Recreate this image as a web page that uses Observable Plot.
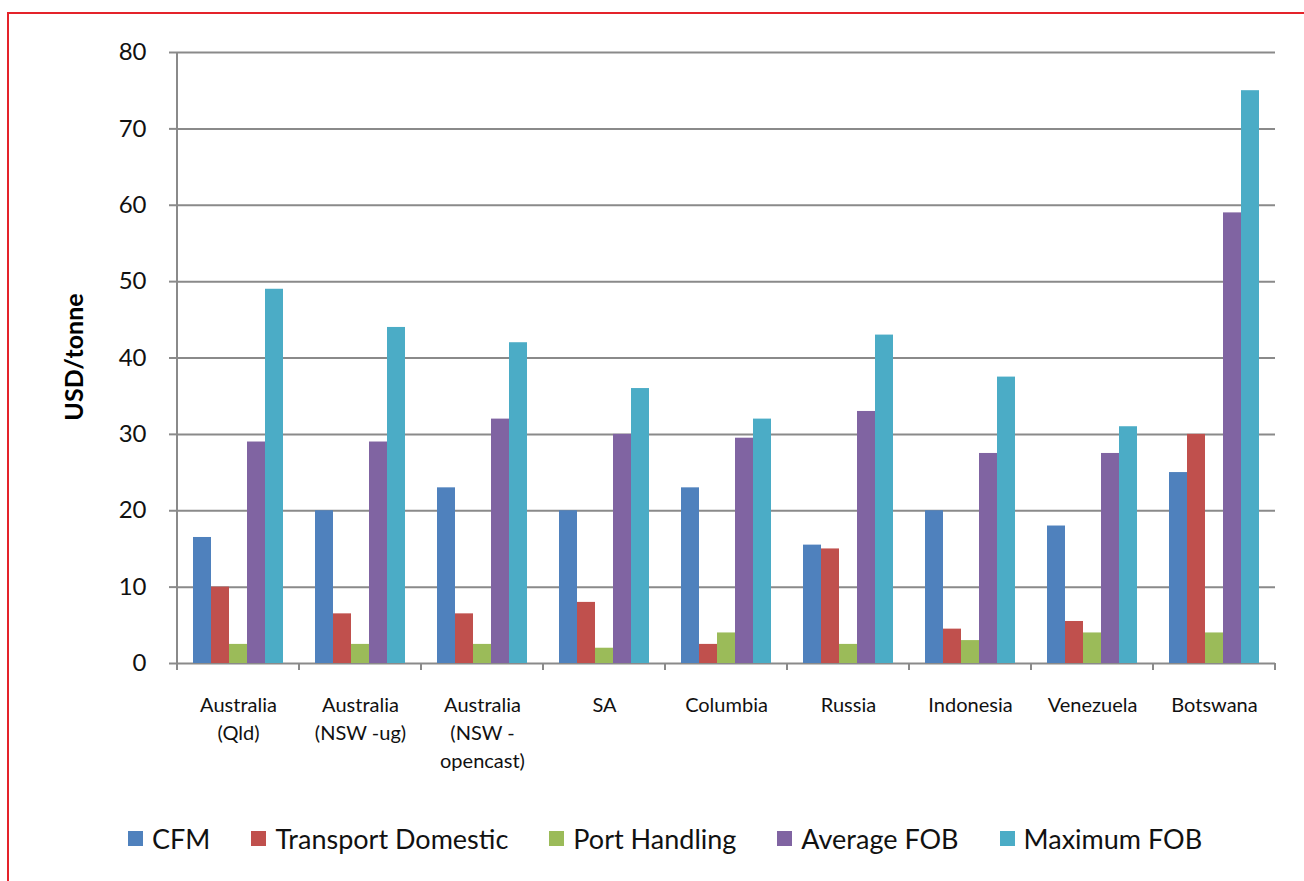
<!DOCTYPE html>
<html>
<head>
<meta charset="utf-8">
<script src="https://cdn.jsdelivr.net/npm/d3@7"></script>
<script src="https://cdn.jsdelivr.net/npm/@observablehq/plot@0.6"></script>
<style>
  html, body { margin: 0; padding: 0; background: #fff; }
  #wrap { position: relative; width: 1304px; height: 881px; overflow: hidden; font-family: Lato, "Open Sans", sans-serif; }
  #frame { position: absolute; left: 7px; top: 12px; width: 1400px; height: 1000px; border-top: 2px solid #e4232a; border-left: 2px solid #e4232a; }
  #chart { position: absolute; left: 0; top: 0; }
  #ytitle { position: absolute; left: 73px; top: 357px; transform: translate(-50%, -50%) rotate(-90deg); font-weight: bold; font-size: 25px; white-space: nowrap; color: #000; }
  #legend { position: absolute; left: 128px; top: 822px; display: flex; align-items: center; gap: 41px; font-size: 27px; color: #111; }
  #legend .item { display: flex; align-items: center; gap: 9px; }
  #legend .sw { width: 15px; height: 15px; display: inline-block; }
</style>
</head>
<body>
<div id="wrap">
  <div id="frame"></div>
  <div id="chart"></div>
  <div id="ytitle">USD/tonne</div>
  <div id="legend"></div>
</div>
<script>
const countries = ["Australia\n(Qld)", "Australia\n(NSW -ug)", "Australia\n(NSW -\nopencast)", "SA", "Columbia", "Russia", "Indonesia", "Venezuela", "Botswana"];
const series = ["CFM", "Transport Domestic", "Port Handling", "Average FOB", "Maximum FOB"];
const colors = ["#4F81BD", "#C0504D", "#9BBB59", "#8064A2", "#4BACC6"];
const cfm       = [16.5, 20, 23, 20, 23, 15.5, 20, 18, 25];
const transport = [10, 6.5, 6.5, 8, 2.5, 15, 4.5, 5.5, 30];
const port      = [2.5, 2.5, 2.5, 2, 4, 2.5, 3, 4, 4];
const avgFob    = [29, 29, 32, 30, 29.5, 33, 27.5, 27.5, 59];
const maxFob    = [49, 44, 42, 36, 32, 43, 37.5, 31, 75];
const yTicks = [0, 10, 20, 30, 40, 50, 60, 70, 80];

const seriesValues = [cfm, transport, port, avgFob, maxFob];
const rows = [];
countries.forEach((c, i) => series.forEach((s, k) => rows.push({country: c, series: s, value: seriesValues[k][i]})));

const gridColor = "#8a8a8a";

const chart = Plot.plot({
  width: 1304,
  height: 790,
  marginTop: 52,
  marginBottom: 127,
  marginLeft: 176,
  marginRight: 28,
  style: {fontFamily: "Lato, 'Open Sans', sans-serif", background: "transparent", color: "#111"},
  fx: {domain: countries, padding: 0, label: null},
  x: {domain: series, paddingInner: 0, paddingOuter: 0.77, axis: null},
  y: {domain: [0, 80], label: null},
  color: {domain: series, range: colors},
  marks: [
    Plot.ruleY(yTicks, {stroke: gridColor, strokeWidth: 2}),
    Plot.barY(rows, {fx: "country", x: "series", y: "value", fill: "series"}),
    Plot.axisY({ticks: yTicks, tickSize: 8, tickPadding: 23, stroke: gridColor, strokeWidth: 2, fontSize: 24, fill: "#111", label: null}),
    Plot.axisFx({anchor: "bottom", tickSize: 0, tickPadding: 29, fontSize: 20, lineHeight: 1.4, fill: "#111", label: null})
  ]
});
document.getElementById("chart").appendChild(chart);

// axis line and category boundary ticks, placed with the plot's own scales
const fxS = chart.scale("fx");
const yS = chart.scale("y");
const svg = d3.select(chart);
const g = svg.append("g").attr("stroke", gridColor).attr("stroke-width", 2);
const x0 = fxS.apply(countries[0]);
const y0 = yS.apply(0);
g.append("line").attr("x1", x0).attr("x2", x0).attr("y1", yS.apply(80)).attr("y2", y0 + 6);
const bounds = countries.map(c => fxS.apply(c)).concat([fxS.apply(countries[countries.length - 1]) + fxS.bandwidth]);
bounds.forEach(bx => g.append("line").attr("x1", bx).attr("x2", bx).attr("y1", y0).attr("y2", y0 + 7));

// legend
const leg = document.getElementById("legend");
series.forEach((s, k) => {
  const it = document.createElement("div");
  it.className = "item";
  it.innerHTML = `<span class="sw" style="background:${colors[k]}"></span><span>${s}</span>`;
  leg.appendChild(it);
});
</script>
</body>
</html>
